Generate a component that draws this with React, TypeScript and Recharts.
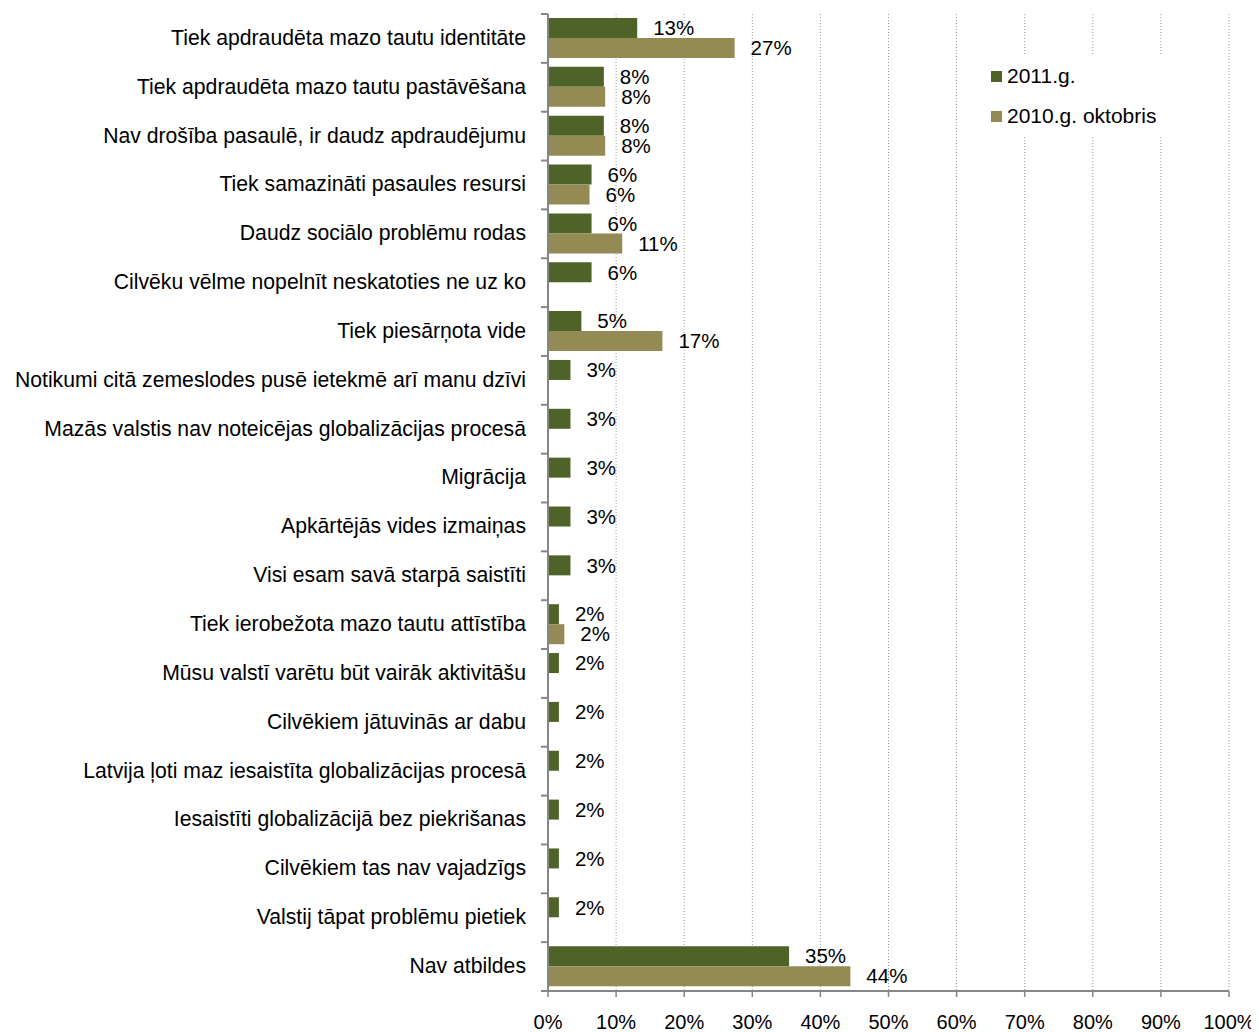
import React from 'react';
import {
  BarChart,
  Bar,
  XAxis,
  YAxis,
  CartesianGrid,
  Legend,
  LabelList,
} from 'recharts';

const categories = [
  'Tiek apdraudēta mazo tautu identitāte',
  'Tiek apdraudēta mazo tautu pastāvēšana',
  'Nav drošība pasaulē, ir daudz apdraudējumu',
  'Tiek samazināti pasaules resursi',
  'Daudz sociālo problēmu rodas',
  'Cilvēku vēlme nopelnīt neskatoties ne uz ko',
  'Tiek piesārņota vide',
  'Notikumi citā zemeslodes pusē ietekmē arī manu dzīvi',
  'Mazās valstis nav noteicējas globalizācijas procesā',
  'Migrācija',
  'Apkārtējās vides izmaiņas',
  'Visi esam savā starpā saistīti',
  'Tiek ierobežota mazo tautu attīstība',
  'Mūsu valstī varētu būt vairāk aktivitāšu',
  'Cilvēkiem jātuvinās ar dabu',
  'Latvija ļoti maz iesaistīta globalizācijas procesā',
  'Iesaistīti globalizācijā bez piekrišanas',
  'Cilvēkiem tas nav vajadzīgs',
  'Valstij tāpat problēmu pietiek',
  'Nav atbildes',
];

const values2011 = [
  13.1, 8.2, 8.2, 6.4, 6.4, 6.4, 4.9, 3.3, 3.3, 3.3, 3.3, 3.3, 1.6, 1.6, 1.6,
  1.6, 1.6, 1.6, 1.6, 35.4,
];

const values2010: (number | null)[] = [
  27.4, 8.4, 8.4, 6.1, 10.9, null, 16.8, null, null, null, null, null, 2.4,
  null, null, null, null, null, null, 44.4,
];

const xTicks = [0, 10, 20, 30, 40, 50, 60, 70, 80, 90, 100];

const seriesNames = ['2011.g.', '2010.g. oktobris'];
const colors = ['#4F6228', '#948A54'];

const data = categories.map((name, i) => ({
  name,
  y2011: values2011[i],
  y2010: values2010[i],
}));

const FONT = '"Liberation Sans", Arial, sans-serif';
const BAND = 977 / categories.length;

function CategoryTick(props: any) {
  const { x, y, payload, index } = props;
  return (
    <g>
      <line x1={x - 7} x2={x} y1={y - BAND / 2} y2={y - BAND / 2} stroke="#868686" strokeWidth={2} />
      {index === categories.length - 1 && (
        <line x1={x - 7} x2={x} y1={y + BAND / 2} y2={y + BAND / 2} stroke="#868686" strokeWidth={2} />
      )}
      <text
        x={x - 22}
        y={y - 1}
        dy="0.35em"
        textAnchor="end"
        fill="#000"
        fontSize={21.2}
        fontFamily={FONT}
      >
        {payload.value}
      </text>
    </g>
  );
}

function LegendBox() {
  return (
    <div style={{ background: '#fff', width: 180, fontFamily: FONT, fontSize: 21, color: '#000' }}>
      {seriesNames.map((n, i) => (
        <div key={n} style={{ height: 40, display: 'flex', alignItems: 'center' }}>
          <span
            style={{
              display: 'inline-block',
              width: 11,
              height: 11,
              background: colors[i],
              marginLeft: 6,
              marginRight: 5,
            }}
          />
          <span>{n}</span>
        </div>
      ))}
    </div>
  );
}

const fmt = (v: any) => (v == null ? '' : `${Math.round(v)}%`);

export default function App() {
  return (
    <div style={{ width: 1251, height: 1024, fontFamily: FONT }}>
      <BarChart
        width={1251}
        height={1024}
        data={data}
        layout="vertical"
        margin={{ top: 6, right: 30, bottom: 0, left: 0 }}
        barSize={20}
        barGap={0}
      >
        <CartesianGrid
          horizontal={false}
          stroke="#9a9a9a"
          strokeDasharray="1 2"
        />
        <XAxis
          type="number"
          domain={[0, 100]}
          ticks={xTicks}
          tickFormatter={(v) => `${v}%`}
          height={41}
          axisLine={{ stroke: '#868686', strokeWidth: 2 }}
          tickLine={{ stroke: '#868686', strokeWidth: 1.5 }}
          tickSize={6}
          tickMargin={18}
          tick={{ fill: '#000', fontSize: 20, fontFamily: '"Liberation Sans Narrow", "Arial Narrow", Arial, sans-serif' }}
          interval={0}
        />
        <YAxis
          type="category"
          dataKey="name"
          width={540}
          axisLine={{ stroke: '#868686', strokeWidth: 2 }}
          tickLine={false}
          tickSize={0}
          tickMargin={0}
          interval={0}
          tick={<CategoryTick />}
        />
        <Legend
          layout="vertical"
          verticalAlign="middle"
          align="center"
          wrapperStyle={{ top: 48, left: 977, width: 180 }}
          content={() => <LegendBox />}
        />
        <Bar dataKey="y2011" name={seriesNames[0]} fill={colors[0]} isAnimationActive={false}>
          <LabelList dataKey="y2011" position="right" offset={16} formatter={fmt} fill="#000" fontSize={20.5} fontFamily={FONT} />
        </Bar>
        <Bar dataKey="y2010" name={seriesNames[1]} fill={colors[1]} isAnimationActive={false}>
          <LabelList dataKey="y2010" position="right" offset={16} formatter={fmt} fill="#000" fontSize={20.5} fontFamily={FONT} />
        </Bar>
      </BarChart>
    </div>
  );
}
